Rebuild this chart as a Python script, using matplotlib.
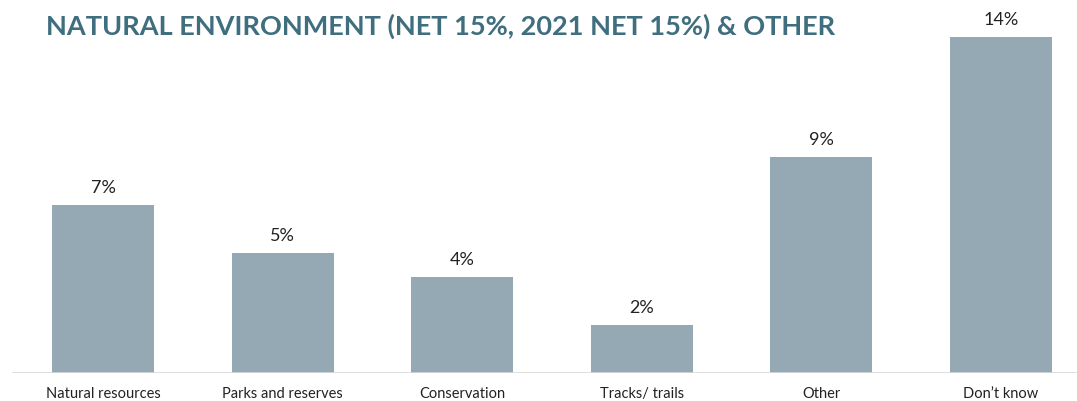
import matplotlib
matplotlib.use('Agg')
import matplotlib.pyplot as plt

categories = ['Natural resources', 'Parks and reserves', 'Conservation',
              'Tracks/ trails', 'Other', 'Don\u2019t know']
values = [7, 5, 4, 2, 9, 14]

bar_color = '#95a9b5'
title_color = '#3f6e7e'

plt.rcParams['font.family'] = ['Lato', 'DejaVu Sans']

fig = plt.figure(figsize=(10.77, 4.02), dpi=100)
ax = fig.add_axes([0, 28 / 402, 1, 374 / 402])

x = list(range(len(categories)))
ax.bar(x, values, width=0.568, color=bar_color, zorder=2)

for xi, v in zip(x, values):
    ax.text(xi, v + 0.4, f'{v}%', ha='center', va='bottom',
            fontsize=13, color='#222222')

ax.set_xlim(-103 / 179.6, (1077 - 103) / 179.6)
ax.set_ylim(0, 374 / 24)
ax.axhline(0, xmin=13 / 1077, xmax=1, color='#d9d9d9', lw=1.2, zorder=3)

for s in ax.spines.values():
    s.set_visible(False)
ax.set_yticks([])
ax.set_xticks(x)
ax.set_xticklabels(categories, fontsize=10.5, color='#222222')
ax.tick_params(axis='x', length=0, pad=9.5)

fig.text(46 / 1077, 1 - 26 / 402, 'NATURAL ENVIRONMENT (NET 15%, 2021 NET 15%) & OTHER',
         fontsize=19.5, fontweight='bold', color=title_color, va='center', ha='left')

fig.savefig('out.png', dpi=100)
